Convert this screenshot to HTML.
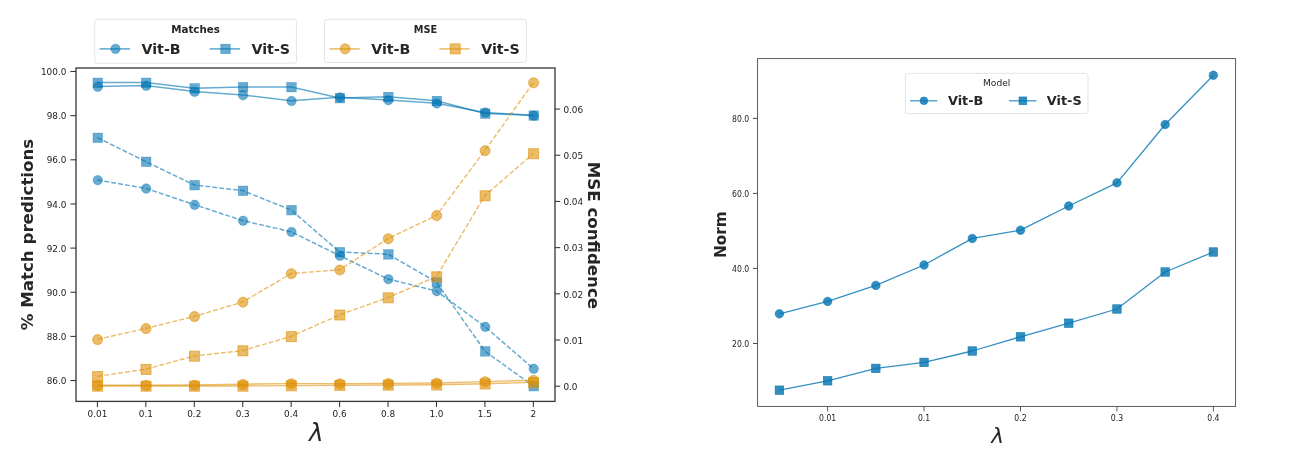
<!DOCTYPE html>
<html lang="en"><head><meta charset="utf-8"><title>Lambda sweep charts</title>
<style>
html,body{margin:0;padding:0;background:#fff;}
body{width:1295px;height:463px;overflow:hidden;}
svg{display:block;will-change:transform;}
text{font-family:"DejaVu Sans","Liberation Sans",sans-serif;fill:#262626;}
.tk{font-size:8.9px;fill:#222;}
.tk2{font-size:9.1px;fill:#222;}
.al{font-size:16.65px;font-weight:bold;}
.al2{font-size:15.3px;font-weight:bold;}
.lam{font-size:24.5px;font-style:italic;}
.lam2{font-size:21.5px;font-style:italic;}
.lt1{font-size:10.3px;font-weight:bold;}
.li1{font-size:14.2px;font-weight:bold;}
.lt1b{font-size:9.75px;font-weight:bold;}
.lt2{font-size:9.15px;}
.li2{font-size:12.85px;font-weight:bold;}
</style></head>
<body>
<svg width="1295" height="463" viewBox="0 0 1295 463">
<rect width="1295" height="463" fill="#ffffff"/>
<g id="left">
<polyline points="97.40,86.60 145.84,85.60 194.28,91.60 242.72,95.00 291.16,100.80 339.60,97.20 388.04,100.00 436.48,103.20 484.92,112.40 533.36,115.40" fill="none" stroke="#0173b2" stroke-opacity="0.6" stroke-width="1.5" stroke-linejoin="round"/>
<circle cx="97.75" cy="86.80" r="4.75" fill="#0173b2" fill-opacity="0.6" stroke="#0173b2" stroke-opacity="0.6" stroke-width="0.5"/>
<circle cx="146.19" cy="85.80" r="4.75" fill="#0173b2" fill-opacity="0.6" stroke="#0173b2" stroke-opacity="0.6" stroke-width="0.5"/>
<circle cx="194.63" cy="91.80" r="4.75" fill="#0173b2" fill-opacity="0.6" stroke="#0173b2" stroke-opacity="0.6" stroke-width="0.5"/>
<circle cx="243.07" cy="95.20" r="4.75" fill="#0173b2" fill-opacity="0.6" stroke="#0173b2" stroke-opacity="0.6" stroke-width="0.5"/>
<circle cx="291.51" cy="101.00" r="4.75" fill="#0173b2" fill-opacity="0.6" stroke="#0173b2" stroke-opacity="0.6" stroke-width="0.5"/>
<circle cx="339.95" cy="97.40" r="4.75" fill="#0173b2" fill-opacity="0.6" stroke="#0173b2" stroke-opacity="0.6" stroke-width="0.5"/>
<circle cx="388.39" cy="100.20" r="4.75" fill="#0173b2" fill-opacity="0.6" stroke="#0173b2" stroke-opacity="0.6" stroke-width="0.5"/>
<circle cx="436.83" cy="103.40" r="4.75" fill="#0173b2" fill-opacity="0.6" stroke="#0173b2" stroke-opacity="0.6" stroke-width="0.5"/>
<circle cx="485.27" cy="112.60" r="4.75" fill="#0173b2" fill-opacity="0.6" stroke="#0173b2" stroke-opacity="0.6" stroke-width="0.5"/>
<circle cx="533.71" cy="115.60" r="4.75" fill="#0173b2" fill-opacity="0.6" stroke="#0173b2" stroke-opacity="0.6" stroke-width="0.5"/>
<polyline points="97.40,180.00 145.84,188.40 194.28,204.60 242.72,220.60 291.16,231.80 339.60,255.60 388.04,279.00 436.48,291.00 484.92,326.60 533.36,368.60" fill="none" stroke="#0173b2" stroke-opacity="0.6" stroke-width="1.5" stroke-dasharray="4.9 2.1" stroke-linejoin="round"/>
<circle cx="97.75" cy="180.20" r="4.75" fill="#0173b2" fill-opacity="0.6" stroke="#0173b2" stroke-opacity="0.6" stroke-width="0.5"/>
<circle cx="146.19" cy="188.60" r="4.75" fill="#0173b2" fill-opacity="0.6" stroke="#0173b2" stroke-opacity="0.6" stroke-width="0.5"/>
<circle cx="194.63" cy="204.80" r="4.75" fill="#0173b2" fill-opacity="0.6" stroke="#0173b2" stroke-opacity="0.6" stroke-width="0.5"/>
<circle cx="243.07" cy="220.80" r="4.75" fill="#0173b2" fill-opacity="0.6" stroke="#0173b2" stroke-opacity="0.6" stroke-width="0.5"/>
<circle cx="291.51" cy="232.00" r="4.75" fill="#0173b2" fill-opacity="0.6" stroke="#0173b2" stroke-opacity="0.6" stroke-width="0.5"/>
<circle cx="339.95" cy="255.80" r="4.75" fill="#0173b2" fill-opacity="0.6" stroke="#0173b2" stroke-opacity="0.6" stroke-width="0.5"/>
<circle cx="388.39" cy="279.20" r="4.75" fill="#0173b2" fill-opacity="0.6" stroke="#0173b2" stroke-opacity="0.6" stroke-width="0.5"/>
<circle cx="436.83" cy="291.20" r="4.75" fill="#0173b2" fill-opacity="0.6" stroke="#0173b2" stroke-opacity="0.6" stroke-width="0.5"/>
<circle cx="485.27" cy="326.80" r="4.75" fill="#0173b2" fill-opacity="0.6" stroke="#0173b2" stroke-opacity="0.6" stroke-width="0.5"/>
<circle cx="533.71" cy="368.80" r="4.75" fill="#0173b2" fill-opacity="0.6" stroke="#0173b2" stroke-opacity="0.6" stroke-width="0.5"/>
<polyline points="97.40,82.60 145.84,82.60 194.28,88.20 242.72,87.00 291.16,87.00 339.60,98.00 388.04,96.80 436.48,100.80 484.92,113.40 533.36,115.40" fill="none" stroke="#0173b2" stroke-opacity="0.6" stroke-width="1.5" stroke-linejoin="round"/>
<rect x="93.00" y="78.05" width="9.50" height="9.50" fill="#0173b2" fill-opacity="0.6" stroke="#0173b2" stroke-opacity="0.6" stroke-width="0.5"/>
<rect x="141.44" y="78.05" width="9.50" height="9.50" fill="#0173b2" fill-opacity="0.6" stroke="#0173b2" stroke-opacity="0.6" stroke-width="0.5"/>
<rect x="189.88" y="83.65" width="9.50" height="9.50" fill="#0173b2" fill-opacity="0.6" stroke="#0173b2" stroke-opacity="0.6" stroke-width="0.5"/>
<rect x="238.32" y="82.45" width="9.50" height="9.50" fill="#0173b2" fill-opacity="0.6" stroke="#0173b2" stroke-opacity="0.6" stroke-width="0.5"/>
<rect x="286.76" y="82.45" width="9.50" height="9.50" fill="#0173b2" fill-opacity="0.6" stroke="#0173b2" stroke-opacity="0.6" stroke-width="0.5"/>
<rect x="335.20" y="93.45" width="9.50" height="9.50" fill="#0173b2" fill-opacity="0.6" stroke="#0173b2" stroke-opacity="0.6" stroke-width="0.5"/>
<rect x="383.64" y="92.25" width="9.50" height="9.50" fill="#0173b2" fill-opacity="0.6" stroke="#0173b2" stroke-opacity="0.6" stroke-width="0.5"/>
<rect x="432.08" y="96.25" width="9.50" height="9.50" fill="#0173b2" fill-opacity="0.6" stroke="#0173b2" stroke-opacity="0.6" stroke-width="0.5"/>
<rect x="480.52" y="108.85" width="9.50" height="9.50" fill="#0173b2" fill-opacity="0.6" stroke="#0173b2" stroke-opacity="0.6" stroke-width="0.5"/>
<rect x="528.96" y="110.85" width="9.50" height="9.50" fill="#0173b2" fill-opacity="0.6" stroke="#0173b2" stroke-opacity="0.6" stroke-width="0.5"/>
<polyline points="97.40,137.60 145.84,161.60 194.28,185.00 242.72,190.60 291.16,210.00 339.60,252.00 388.04,254.20 436.48,282.20 484.92,351.20 533.36,386.00" fill="none" stroke="#0173b2" stroke-opacity="0.6" stroke-width="1.5" stroke-dasharray="4.9 2.1" stroke-linejoin="round"/>
<rect x="93.00" y="133.05" width="9.50" height="9.50" fill="#0173b2" fill-opacity="0.6" stroke="#0173b2" stroke-opacity="0.6" stroke-width="0.5"/>
<rect x="141.44" y="157.05" width="9.50" height="9.50" fill="#0173b2" fill-opacity="0.6" stroke="#0173b2" stroke-opacity="0.6" stroke-width="0.5"/>
<rect x="189.88" y="180.45" width="9.50" height="9.50" fill="#0173b2" fill-opacity="0.6" stroke="#0173b2" stroke-opacity="0.6" stroke-width="0.5"/>
<rect x="238.32" y="186.05" width="9.50" height="9.50" fill="#0173b2" fill-opacity="0.6" stroke="#0173b2" stroke-opacity="0.6" stroke-width="0.5"/>
<rect x="286.76" y="205.45" width="9.50" height="9.50" fill="#0173b2" fill-opacity="0.6" stroke="#0173b2" stroke-opacity="0.6" stroke-width="0.5"/>
<rect x="335.20" y="247.45" width="9.50" height="9.50" fill="#0173b2" fill-opacity="0.6" stroke="#0173b2" stroke-opacity="0.6" stroke-width="0.5"/>
<rect x="383.64" y="249.65" width="9.50" height="9.50" fill="#0173b2" fill-opacity="0.6" stroke="#0173b2" stroke-opacity="0.6" stroke-width="0.5"/>
<rect x="432.08" y="277.65" width="9.50" height="9.50" fill="#0173b2" fill-opacity="0.6" stroke="#0173b2" stroke-opacity="0.6" stroke-width="0.5"/>
<rect x="480.52" y="346.65" width="9.50" height="9.50" fill="#0173b2" fill-opacity="0.6" stroke="#0173b2" stroke-opacity="0.6" stroke-width="0.5"/>
<rect x="528.96" y="381.45" width="9.50" height="9.50" fill="#0173b2" fill-opacity="0.6" stroke="#0173b2" stroke-opacity="0.6" stroke-width="0.5"/>
<polyline points="97.40,385.20 145.84,385.20 194.28,385.00 242.72,384.20 291.16,383.60 339.60,383.60 388.04,383.40 436.48,383.00 484.92,381.60 533.36,380.20" fill="none" stroke="#de8f05" stroke-opacity="0.6" stroke-width="1.4" stroke-linejoin="round"/>
<circle cx="97.60" cy="385.40" r="5.00" fill="#de8f05" fill-opacity="0.6" stroke="#de8f05" stroke-opacity="0.6" stroke-width="1.0"/>
<circle cx="146.04" cy="385.40" r="5.00" fill="#de8f05" fill-opacity="0.6" stroke="#de8f05" stroke-opacity="0.6" stroke-width="1.0"/>
<circle cx="194.48" cy="385.20" r="5.00" fill="#de8f05" fill-opacity="0.6" stroke="#de8f05" stroke-opacity="0.6" stroke-width="1.0"/>
<circle cx="242.92" cy="384.40" r="5.00" fill="#de8f05" fill-opacity="0.6" stroke="#de8f05" stroke-opacity="0.6" stroke-width="1.0"/>
<circle cx="291.36" cy="383.80" r="5.00" fill="#de8f05" fill-opacity="0.6" stroke="#de8f05" stroke-opacity="0.6" stroke-width="1.0"/>
<circle cx="339.80" cy="383.80" r="5.00" fill="#de8f05" fill-opacity="0.6" stroke="#de8f05" stroke-opacity="0.6" stroke-width="1.0"/>
<circle cx="388.24" cy="383.60" r="5.00" fill="#de8f05" fill-opacity="0.6" stroke="#de8f05" stroke-opacity="0.6" stroke-width="1.0"/>
<circle cx="436.68" cy="383.20" r="5.00" fill="#de8f05" fill-opacity="0.6" stroke="#de8f05" stroke-opacity="0.6" stroke-width="1.0"/>
<circle cx="485.12" cy="381.80" r="5.00" fill="#de8f05" fill-opacity="0.6" stroke="#de8f05" stroke-opacity="0.6" stroke-width="1.0"/>
<circle cx="533.56" cy="380.40" r="5.00" fill="#de8f05" fill-opacity="0.6" stroke="#de8f05" stroke-opacity="0.6" stroke-width="1.0"/>
<polyline points="97.40,339.40 145.84,328.40 194.28,316.40 242.72,302.00 291.16,273.50 339.60,269.80 388.04,238.60 436.48,215.40 484.92,150.50 533.36,82.60" fill="none" stroke="#de8f05" stroke-opacity="0.6" stroke-width="1.4" stroke-dasharray="4.9 2.1" stroke-linejoin="round"/>
<circle cx="97.60" cy="339.60" r="5.00" fill="#de8f05" fill-opacity="0.6" stroke="#de8f05" stroke-opacity="0.6" stroke-width="1.0"/>
<circle cx="146.04" cy="328.60" r="5.00" fill="#de8f05" fill-opacity="0.6" stroke="#de8f05" stroke-opacity="0.6" stroke-width="1.0"/>
<circle cx="194.48" cy="316.60" r="5.00" fill="#de8f05" fill-opacity="0.6" stroke="#de8f05" stroke-opacity="0.6" stroke-width="1.0"/>
<circle cx="242.92" cy="302.20" r="5.00" fill="#de8f05" fill-opacity="0.6" stroke="#de8f05" stroke-opacity="0.6" stroke-width="1.0"/>
<circle cx="291.36" cy="273.70" r="5.00" fill="#de8f05" fill-opacity="0.6" stroke="#de8f05" stroke-opacity="0.6" stroke-width="1.0"/>
<circle cx="339.80" cy="270.00" r="5.00" fill="#de8f05" fill-opacity="0.6" stroke="#de8f05" stroke-opacity="0.6" stroke-width="1.0"/>
<circle cx="388.24" cy="238.80" r="5.00" fill="#de8f05" fill-opacity="0.6" stroke="#de8f05" stroke-opacity="0.6" stroke-width="1.0"/>
<circle cx="436.68" cy="215.60" r="5.00" fill="#de8f05" fill-opacity="0.6" stroke="#de8f05" stroke-opacity="0.6" stroke-width="1.0"/>
<circle cx="485.12" cy="150.70" r="5.00" fill="#de8f05" fill-opacity="0.6" stroke="#de8f05" stroke-opacity="0.6" stroke-width="1.0"/>
<circle cx="533.56" cy="82.80" r="5.00" fill="#de8f05" fill-opacity="0.6" stroke="#de8f05" stroke-opacity="0.6" stroke-width="1.0"/>
<polyline points="97.40,386.00 145.84,386.00 194.28,386.00 242.72,386.00 291.16,385.60 339.60,385.20 388.04,385.00 436.48,384.80 484.92,383.80 533.36,382.40" fill="none" stroke="#de8f05" stroke-opacity="0.6" stroke-width="1.4" stroke-linejoin="round"/>
<rect x="92.60" y="381.20" width="10.00" height="10.00" fill="#de8f05" fill-opacity="0.6" stroke="#de8f05" stroke-opacity="0.6" stroke-width="1.0"/>
<rect x="141.04" y="381.20" width="10.00" height="10.00" fill="#de8f05" fill-opacity="0.6" stroke="#de8f05" stroke-opacity="0.6" stroke-width="1.0"/>
<rect x="189.48" y="381.20" width="10.00" height="10.00" fill="#de8f05" fill-opacity="0.6" stroke="#de8f05" stroke-opacity="0.6" stroke-width="1.0"/>
<rect x="237.92" y="381.20" width="10.00" height="10.00" fill="#de8f05" fill-opacity="0.6" stroke="#de8f05" stroke-opacity="0.6" stroke-width="1.0"/>
<rect x="286.36" y="380.80" width="10.00" height="10.00" fill="#de8f05" fill-opacity="0.6" stroke="#de8f05" stroke-opacity="0.6" stroke-width="1.0"/>
<rect x="334.80" y="380.40" width="10.00" height="10.00" fill="#de8f05" fill-opacity="0.6" stroke="#de8f05" stroke-opacity="0.6" stroke-width="1.0"/>
<rect x="383.24" y="380.20" width="10.00" height="10.00" fill="#de8f05" fill-opacity="0.6" stroke="#de8f05" stroke-opacity="0.6" stroke-width="1.0"/>
<rect x="431.68" y="380.00" width="10.00" height="10.00" fill="#de8f05" fill-opacity="0.6" stroke="#de8f05" stroke-opacity="0.6" stroke-width="1.0"/>
<rect x="480.12" y="379.00" width="10.00" height="10.00" fill="#de8f05" fill-opacity="0.6" stroke="#de8f05" stroke-opacity="0.6" stroke-width="1.0"/>
<rect x="528.56" y="377.60" width="10.00" height="10.00" fill="#de8f05" fill-opacity="0.6" stroke="#de8f05" stroke-opacity="0.6" stroke-width="1.0"/>
<polyline points="97.40,376.40 145.84,369.20 194.28,356.00 242.72,350.60 291.16,336.40 339.60,314.80 388.04,297.60 436.48,276.60 484.92,195.60 533.36,153.50" fill="none" stroke="#de8f05" stroke-opacity="0.6" stroke-width="1.4" stroke-dasharray="4.9 2.1" stroke-linejoin="round"/>
<rect x="92.60" y="371.60" width="10.00" height="10.00" fill="#de8f05" fill-opacity="0.6" stroke="#de8f05" stroke-opacity="0.6" stroke-width="1.0"/>
<rect x="141.04" y="364.40" width="10.00" height="10.00" fill="#de8f05" fill-opacity="0.6" stroke="#de8f05" stroke-opacity="0.6" stroke-width="1.0"/>
<rect x="189.48" y="351.20" width="10.00" height="10.00" fill="#de8f05" fill-opacity="0.6" stroke="#de8f05" stroke-opacity="0.6" stroke-width="1.0"/>
<rect x="237.92" y="345.80" width="10.00" height="10.00" fill="#de8f05" fill-opacity="0.6" stroke="#de8f05" stroke-opacity="0.6" stroke-width="1.0"/>
<rect x="286.36" y="331.60" width="10.00" height="10.00" fill="#de8f05" fill-opacity="0.6" stroke="#de8f05" stroke-opacity="0.6" stroke-width="1.0"/>
<rect x="334.80" y="310.00" width="10.00" height="10.00" fill="#de8f05" fill-opacity="0.6" stroke="#de8f05" stroke-opacity="0.6" stroke-width="1.0"/>
<rect x="383.24" y="292.80" width="10.00" height="10.00" fill="#de8f05" fill-opacity="0.6" stroke="#de8f05" stroke-opacity="0.6" stroke-width="1.0"/>
<rect x="431.68" y="271.80" width="10.00" height="10.00" fill="#de8f05" fill-opacity="0.6" stroke="#de8f05" stroke-opacity="0.6" stroke-width="1.0"/>
<rect x="480.12" y="190.80" width="10.00" height="10.00" fill="#de8f05" fill-opacity="0.6" stroke="#de8f05" stroke-opacity="0.6" stroke-width="1.0"/>
<rect x="528.56" y="148.70" width="10.00" height="10.00" fill="#de8f05" fill-opacity="0.6" stroke="#de8f05" stroke-opacity="0.6" stroke-width="1.0"/>
<rect x="76.0" y="68.0" width="479.0" height="333.4" fill="none" stroke="#3c3c3c" stroke-width="1.35"/>
<line x1="70.4" x2="76.0" y1="71.50" y2="71.50" stroke="#333" stroke-width="1.05"/>
<text x="66.4" y="75.10" text-anchor="end" class="tk">100.0</text>
<line x1="70.4" x2="76.0" y1="115.65" y2="115.65" stroke="#333" stroke-width="1.05"/>
<text x="66.4" y="119.25" text-anchor="end" class="tk">98.0</text>
<line x1="70.4" x2="76.0" y1="159.80" y2="159.80" stroke="#333" stroke-width="1.05"/>
<text x="66.4" y="163.40" text-anchor="end" class="tk">96.0</text>
<line x1="70.4" x2="76.0" y1="203.95" y2="203.95" stroke="#333" stroke-width="1.05"/>
<text x="66.4" y="207.55" text-anchor="end" class="tk">94.0</text>
<line x1="70.4" x2="76.0" y1="248.10" y2="248.10" stroke="#333" stroke-width="1.05"/>
<text x="66.4" y="251.70" text-anchor="end" class="tk">92.0</text>
<line x1="70.4" x2="76.0" y1="292.25" y2="292.25" stroke="#333" stroke-width="1.05"/>
<text x="66.4" y="295.85" text-anchor="end" class="tk">90.0</text>
<line x1="70.4" x2="76.0" y1="336.40" y2="336.40" stroke="#333" stroke-width="1.05"/>
<text x="66.4" y="340.00" text-anchor="end" class="tk">88.0</text>
<line x1="70.4" x2="76.0" y1="380.55" y2="380.55" stroke="#333" stroke-width="1.05"/>
<text x="66.4" y="384.15" text-anchor="end" class="tk">86.0</text>
<line x1="555.0" x2="560.2" y1="386.20" y2="386.20" stroke="#333" stroke-width="1.05"/>
<text x="563.4" y="389.95" class="tk">0.0</text>
<line x1="555.0" x2="560.2" y1="340.01" y2="340.01" stroke="#333" stroke-width="1.05"/>
<text x="563.4" y="343.76" class="tk">0.01</text>
<line x1="555.0" x2="560.2" y1="293.82" y2="293.82" stroke="#333" stroke-width="1.05"/>
<text x="563.4" y="297.57" class="tk">0.02</text>
<line x1="555.0" x2="560.2" y1="247.63" y2="247.63" stroke="#333" stroke-width="1.05"/>
<text x="563.4" y="251.38" class="tk">0.03</text>
<line x1="555.0" x2="560.2" y1="201.44" y2="201.44" stroke="#333" stroke-width="1.05"/>
<text x="563.4" y="205.19" class="tk">0.04</text>
<line x1="555.0" x2="560.2" y1="155.25" y2="155.25" stroke="#333" stroke-width="1.05"/>
<text x="563.4" y="159.00" class="tk">0.05</text>
<line x1="555.0" x2="560.2" y1="109.06" y2="109.06" stroke="#333" stroke-width="1.05"/>
<text x="563.4" y="112.81" class="tk">0.06</text>
<line x1="97.40" x2="97.40" y1="401.4" y2="407.0" stroke="#333" stroke-width="1.05"/>
<text x="97.40" y="417.00" text-anchor="middle" class="tk">0.01</text>
<line x1="145.84" x2="145.84" y1="401.4" y2="407.0" stroke="#333" stroke-width="1.05"/>
<text x="145.84" y="417.00" text-anchor="middle" class="tk">0.1</text>
<line x1="194.28" x2="194.28" y1="401.4" y2="407.0" stroke="#333" stroke-width="1.05"/>
<text x="194.28" y="417.00" text-anchor="middle" class="tk">0.2</text>
<line x1="242.72" x2="242.72" y1="401.4" y2="407.0" stroke="#333" stroke-width="1.05"/>
<text x="242.72" y="417.00" text-anchor="middle" class="tk">0.3</text>
<line x1="291.16" x2="291.16" y1="401.4" y2="407.0" stroke="#333" stroke-width="1.05"/>
<text x="291.16" y="417.00" text-anchor="middle" class="tk">0.4</text>
<line x1="339.60" x2="339.60" y1="401.4" y2="407.0" stroke="#333" stroke-width="1.05"/>
<text x="339.60" y="417.00" text-anchor="middle" class="tk">0.6</text>
<line x1="388.04" x2="388.04" y1="401.4" y2="407.0" stroke="#333" stroke-width="1.05"/>
<text x="388.04" y="417.00" text-anchor="middle" class="tk">0.8</text>
<line x1="436.48" x2="436.48" y1="401.4" y2="407.0" stroke="#333" stroke-width="1.05"/>
<text x="436.48" y="417.00" text-anchor="middle" class="tk">1.0</text>
<line x1="484.92" x2="484.92" y1="401.4" y2="407.0" stroke="#333" stroke-width="1.05"/>
<text x="484.92" y="417.00" text-anchor="middle" class="tk">1.5</text>
<line x1="533.36" x2="533.36" y1="401.4" y2="407.0" stroke="#333" stroke-width="1.05"/>
<text x="533.36" y="417.00" text-anchor="middle" class="tk">2</text>
<text transform="translate(33.2,234.5) rotate(-90)" text-anchor="middle" class="al">% Match predictions</text>
<text transform="translate(588.1,235.4) rotate(90)" text-anchor="middle" class="al">MSE confidence</text>
<text x="316.3" y="440.8" text-anchor="middle" class="lam">λ</text>
<rect x="94.8" y="19.4" width="201.59999999999997" height="43.800000000000004" rx="2.2" fill="#fff" fill-opacity="0.8" stroke="#e3e3e3" stroke-width="1"/>
<text x="195.60" y="33.2" text-anchor="middle" class="lt1">Matches</text>
<line x1="99.6" x2="130.0" y1="48.9" y2="48.9" stroke="#0173b2" stroke-opacity="0.6" stroke-width="1.6"/>
<circle cx="115.50" cy="48.90" r="4.70" fill="#0173b2" fill-opacity="0.6" stroke="#0173b2" stroke-opacity="0.6" stroke-width="0.6"/>
<text x="141.5" y="54.1" class="li1">Vit-B</text>
<line x1="209.6" x2="240.0" y1="48.9" y2="48.9" stroke="#0173b2" stroke-opacity="0.6" stroke-width="1.6"/>
<rect x="220.80" y="44.20" width="9.40" height="9.40" fill="#0173b2" fill-opacity="0.6" stroke="#0173b2" stroke-opacity="0.6" stroke-width="0.6"/>
<text x="251.5" y="54.1" class="li1">Vit-S</text>
<rect x="324.5" y="19.4" width="201.79999999999995" height="43.1" rx="2.2" fill="#fff" fill-opacity="0.8" stroke="#e3e3e3" stroke-width="1"/>
<text x="425.40" y="33.2" text-anchor="middle" class="lt1b">MSE</text>
<line x1="329.3" x2="359.7" y1="48.9" y2="48.9" stroke="#de8f05" stroke-opacity="0.6" stroke-width="1.6"/>
<circle cx="345.20" cy="48.90" r="5.05" fill="#de8f05" fill-opacity="0.6" stroke="#de8f05" stroke-opacity="0.6" stroke-width="0.9"/>
<text x="371.2" y="54.1" class="li1">Vit-B</text>
<line x1="439.3" x2="469.7" y1="48.9" y2="48.9" stroke="#de8f05" stroke-opacity="0.6" stroke-width="1.6"/>
<rect x="450.15" y="43.85" width="10.10" height="10.10" fill="#de8f05" fill-opacity="0.6" stroke="#de8f05" stroke-opacity="0.6" stroke-width="0.9"/>
<text x="481.2" y="54.1" class="li1">Vit-S</text>
</g>
<g id="right">
<polyline points="779.40,313.80 827.62,301.40 875.84,285.40 924.06,265.00 972.28,238.40 1020.50,230.20 1068.72,206.00 1116.94,182.80 1165.16,124.50 1213.38,75.20" fill="none" stroke="#0173b2" stroke-opacity="0.8" stroke-width="1.3" stroke-linejoin="round"/>
<circle cx="779.40" cy="313.80" r="4.25" fill="#0173b2" fill-opacity="0.8" stroke="#0173b2" stroke-opacity="0.8" stroke-width="0.7"/>
<circle cx="827.62" cy="301.40" r="4.25" fill="#0173b2" fill-opacity="0.8" stroke="#0173b2" stroke-opacity="0.8" stroke-width="0.7"/>
<circle cx="875.84" cy="285.40" r="4.25" fill="#0173b2" fill-opacity="0.8" stroke="#0173b2" stroke-opacity="0.8" stroke-width="0.7"/>
<circle cx="924.06" cy="265.00" r="4.25" fill="#0173b2" fill-opacity="0.8" stroke="#0173b2" stroke-opacity="0.8" stroke-width="0.7"/>
<circle cx="972.28" cy="238.40" r="4.25" fill="#0173b2" fill-opacity="0.8" stroke="#0173b2" stroke-opacity="0.8" stroke-width="0.7"/>
<circle cx="1020.50" cy="230.20" r="4.25" fill="#0173b2" fill-opacity="0.8" stroke="#0173b2" stroke-opacity="0.8" stroke-width="0.7"/>
<circle cx="1068.72" cy="206.00" r="4.25" fill="#0173b2" fill-opacity="0.8" stroke="#0173b2" stroke-opacity="0.8" stroke-width="0.7"/>
<circle cx="1116.94" cy="182.80" r="4.25" fill="#0173b2" fill-opacity="0.8" stroke="#0173b2" stroke-opacity="0.8" stroke-width="0.7"/>
<circle cx="1165.16" cy="124.50" r="4.25" fill="#0173b2" fill-opacity="0.8" stroke="#0173b2" stroke-opacity="0.8" stroke-width="0.7"/>
<circle cx="1213.38" cy="75.20" r="4.25" fill="#0173b2" fill-opacity="0.8" stroke="#0173b2" stroke-opacity="0.8" stroke-width="0.7"/>
<polyline points="779.40,390.20 827.62,380.80 875.84,368.40 924.06,362.40 972.28,351.00 1020.50,336.80 1068.72,323.20 1116.94,309.00 1165.16,272.00 1213.38,252.00" fill="none" stroke="#0173b2" stroke-opacity="0.8" stroke-width="1.3" stroke-linejoin="round"/>
<rect x="775.15" y="385.95" width="8.50" height="8.50" fill="#0173b2" fill-opacity="0.8" stroke="#0173b2" stroke-opacity="0.8" stroke-width="0.7"/>
<rect x="823.37" y="376.55" width="8.50" height="8.50" fill="#0173b2" fill-opacity="0.8" stroke="#0173b2" stroke-opacity="0.8" stroke-width="0.7"/>
<rect x="871.59" y="364.15" width="8.50" height="8.50" fill="#0173b2" fill-opacity="0.8" stroke="#0173b2" stroke-opacity="0.8" stroke-width="0.7"/>
<rect x="919.81" y="358.15" width="8.50" height="8.50" fill="#0173b2" fill-opacity="0.8" stroke="#0173b2" stroke-opacity="0.8" stroke-width="0.7"/>
<rect x="968.03" y="346.75" width="8.50" height="8.50" fill="#0173b2" fill-opacity="0.8" stroke="#0173b2" stroke-opacity="0.8" stroke-width="0.7"/>
<rect x="1016.25" y="332.55" width="8.50" height="8.50" fill="#0173b2" fill-opacity="0.8" stroke="#0173b2" stroke-opacity="0.8" stroke-width="0.7"/>
<rect x="1064.47" y="318.95" width="8.50" height="8.50" fill="#0173b2" fill-opacity="0.8" stroke="#0173b2" stroke-opacity="0.8" stroke-width="0.7"/>
<rect x="1112.69" y="304.75" width="8.50" height="8.50" fill="#0173b2" fill-opacity="0.8" stroke="#0173b2" stroke-opacity="0.8" stroke-width="0.7"/>
<rect x="1160.91" y="267.75" width="8.50" height="8.50" fill="#0173b2" fill-opacity="0.8" stroke="#0173b2" stroke-opacity="0.8" stroke-width="0.7"/>
<rect x="1209.13" y="247.75" width="8.50" height="8.50" fill="#0173b2" fill-opacity="0.8" stroke="#0173b2" stroke-opacity="0.8" stroke-width="0.7"/>
<rect x="757.6" y="58.6" width="477.9999999999999" height="347.79999999999995" fill="none" stroke="#4a4a4a" stroke-width="0.9"/>
<line x1="753.0" x2="757.6" y1="118.4" y2="118.4" stroke="#4a4a4a" stroke-width="1.0"/>
<text transform="translate(749.30,121.80) scale(0.85,1)" text-anchor="end" class="tk2">80.0</text>
<line x1="753.0" x2="757.6" y1="193.4" y2="193.4" stroke="#4a4a4a" stroke-width="1.0"/>
<text transform="translate(749.30,196.80) scale(0.85,1)" text-anchor="end" class="tk2">60.0</text>
<line x1="753.0" x2="757.6" y1="268.4" y2="268.4" stroke="#4a4a4a" stroke-width="1.0"/>
<text transform="translate(749.30,271.80) scale(0.85,1)" text-anchor="end" class="tk2">40.0</text>
<line x1="753.0" x2="757.6" y1="343.5" y2="343.5" stroke="#4a4a4a" stroke-width="1.0"/>
<text transform="translate(749.30,346.90) scale(0.85,1)" text-anchor="end" class="tk2">20.0</text>
<line x1="827.62" x2="827.62" y1="406.4" y2="411.4" stroke="#4a4a4a" stroke-width="0.9"/>
<text transform="translate(827.62,420.90) scale(0.85,1)" text-anchor="middle" class="tk2">0.01</text>
<line x1="924.06" x2="924.06" y1="406.4" y2="411.4" stroke="#4a4a4a" stroke-width="0.9"/>
<text transform="translate(924.06,420.90) scale(0.85,1)" text-anchor="middle" class="tk2">0.1</text>
<line x1="1020.50" x2="1020.50" y1="406.4" y2="411.4" stroke="#4a4a4a" stroke-width="0.9"/>
<text transform="translate(1020.50,420.90) scale(0.85,1)" text-anchor="middle" class="tk2">0.2</text>
<line x1="1116.94" x2="1116.94" y1="406.4" y2="411.4" stroke="#4a4a4a" stroke-width="0.9"/>
<text transform="translate(1116.94,420.90) scale(0.85,1)" text-anchor="middle" class="tk2">0.3</text>
<line x1="1213.38" x2="1213.38" y1="406.4" y2="411.4" stroke="#4a4a4a" stroke-width="0.9"/>
<text transform="translate(1213.38,420.90) scale(0.85,1)" text-anchor="middle" class="tk2">0.4</text>
<text transform="translate(726.0,234.6) rotate(-90)" text-anchor="middle" class="al2">Norm</text>
<text x="997.6" y="442.7" text-anchor="middle" class="lam2">λ</text>
<rect x="905.4" y="73.4" width="182.60000000000002" height="40.19999999999999" rx="2.2" fill="#fff" fill-opacity="0.8" stroke="#e3e3e3" stroke-width="1"/>
<text x="996.70" y="86.4" text-anchor="middle" class="lt2">Model</text>
<line x1="910.0" x2="937.4" y1="100.8" y2="100.8" stroke="#0173b2" stroke-opacity="0.8" stroke-width="1.2"/>
<circle cx="923.90" cy="100.80" r="3.85" fill="#0173b2" fill-opacity="0.8" stroke="#0173b2" stroke-opacity="0.8" stroke-width="0.7"/>
<text x="948.0" y="105.0" class="li2">Vit-B</text>
<line x1="1009.0" x2="1036.4" y1="100.8" y2="100.8" stroke="#0173b2" stroke-opacity="0.8" stroke-width="1.2"/>
<rect x="1019.05" y="96.95" width="7.70" height="7.70" fill="#0173b2" fill-opacity="0.8" stroke="#0173b2" stroke-opacity="0.8" stroke-width="0.7"/>
<text x="1046.8" y="105.0" class="li2">Vit-S</text>
</g>
</svg>
</body></html>
